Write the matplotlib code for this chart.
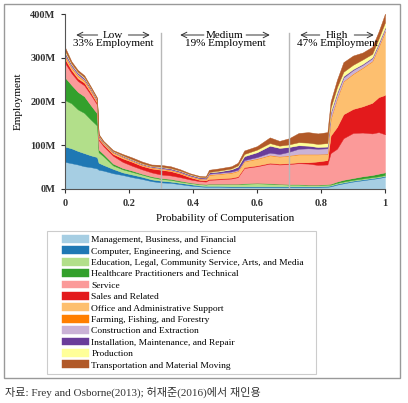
import matplotlib
matplotlib.use("Agg")
import matplotlib.pyplot as plt
from matplotlib.patches import Rectangle

plt.rcParams['font.family'] = ['Liberation Serif', 'DejaVu Sans']

# Probability of computerisation (x) and employment per occupation group (millions)
prob = [0, 0.02, 0.04, 0.06, 0.08, 0.10, 0.105, 0.12, 0.15, 0.18, 0.21, 0.24, 0.27,
        0.30, 0.33, 0.36, 0.39, 0.42, 0.44, 0.45, 0.48, 0.52, 0.54, 0.56, 0.60, 0.64,
        0.67, 0.70, 0.73, 0.76, 0.79, 0.82, 0.83, 0.85, 0.87, 0.90, 0.93, 0.96, 0.98, 1.0]

management = [62, 59, 56, 52, 50, 47, 44, 42, 36, 32, 27, 23, 18, 15, 14, 11, 8, 6, 5, 5, 5, 4, 4, 4,
              4, 4, 4, 4, 4, 4, 4, 5, 6, 10, 13, 17, 20, 23, 25, 28]
computer = [35, 34, 31, 30, 27, 26, 16, 13, 10, 6, 6, 5, 4, 4, 3, 3, 3, 2, 2, 2, 2, 2, 2, 2,
            2, 2, 2, 2, 2, 2, 2, 2, 2, 2, 2, 2, 2, 2, 2, 2]
education = [106, 103, 95, 92, 82, 72, 24, 20, 8, 7, 6, 5, 5, 4, 4, 3, 3, 3, 3, 4, 4, 5, 5, 6,
             7, 6, 5, 4, 4, 3, 3, 3, 2, 2, 2, 2, 2, 2, 2, 2]
healthcare = [52, 42, 40, 38, 33, 28, 6, 5, 4, 3, 3, 2, 2, 2, 2, 2, 1, 1, 1, 1, 1, 1, 1, 1,
              1, 1, 1, 1, 1, 1, 1, 1, 2, 3, 4, 4, 5, 5, 6, 6]
service = [33, 27, 25, 25, 24, 20, 22, 18, 18, 14, 11, 10, 9, 8, 8, 8, 7, 6, 6, 9, 10, 12, 15, 35,
           38, 45, 44, 46, 48, 48, 45, 45, 70, 75, 95, 103, 100, 95, 95, 87]
sales = [9, 7, 6, 6, 5, 4, 3, 4, 4, 8, 9, 8, 9, 11, 10, 8, 5, 3, 3, 2, 2, 2, 2, 2,
         2, 2, 2, 2, 2, 3, 8, 10, 40, 50, 55, 55, 60, 70, 80, 90]
office = [5, 5, 5, 4, 4, 3, 3, 2, 3, 3, 2, 2, 2, 2, 2, 2, 2, 2, 2, 9, 10, 11, 12, 13,
          15, 17, 16, 17, 18, 18, 16, 14, 38, 65, 75, 80, 88, 95, 115, 145]
farming = [3, 2, 2, 2, 2, 1, 1, 1, 1, 1, 1, 1, 1, 1, 1, 1, 1, 1, 1, 1, 1, 1, 1, 1,
           1, 1, 1, 1, 1, 1, 1, 1, 1, 1, 1, 1, 1, 1, 1, 1]
construction = [3, 3, 3, 2, 2, 2, 1, 1, 1, 1, 1, 1, 1, 1, 1, 1, 1, 1, 1, 2, 2, 2, 2, 2,
                3, 5, 5, 8, 12, 13, 12, 12, 12, 10, 8, 8, 6, 6, 6, 6]
installation = [4, 3, 3, 3, 2, 2, 2, 1, 1, 1, 1, 1, 1, 2, 2, 2, 2, 2, 2, 3, 3, 5, 7, 9,
                11, 16, 14, 11, 8, 6, 4, 4, 3, 3, 3, 2, 2, 2, 2, 2]
production = [4, 2, 2, 2, 1, 1, 1, 1, 1, 1, 1, 1, 1, 1, 1, 1, 1, 1, 1, 1, 2, 2, 3, 5,
              6, 6, 5, 6, 7, 7, 7, 8, 10, 12, 10, 10, 10, 8, 10, 12]
transport = [8, 5, 4, 4, 3, 3, 3, 2, 2, 3, 4, 4, 3, 4, 4, 3, 2, 2, 2, 5, 5, 5, 6, 8,
             8, 13, 11, 14, 21, 24, 24, 25, 14, 17, 22, 21, 16, 16, 16, 20]

labels = ["Management, Business, and Financial",
          "Computer, Engineering, and Science",
          "Education, Legal, Community Service, Arts, and Media",
          "Healthcare Practitioners and Technical",
          "Service",
          "Sales and Related",
          "Office and Administrative Support",
          "Farming, Fishing, and Forestry",
          "Construction and Extraction",
          "Installation, Maintenance, and Repair",
          "Production",
          "Transportation and Material Moving"]
colors = ["#a6cee3", "#1f78b4", "#b2df8a", "#33a02c", "#fb9a99", "#e31a1c",
          "#fdbf6f", "#ff7f00", "#cab2d6", "#6a3d9a", "#ffff99", "#b15928"]
series = [management, computer, education, healthcare, service, sales, office,
          farming, construction, installation, production, transport]

yticks = [0, 100, 200, 300, 400]
xticks = [0, 0.2, 0.4, 0.6, 0.8, 1]
xtick_labels = ["0", "0.2", "0.4", "0.6", "0.8", "1"]

W, H = 408, 403
fig = plt.figure(figsize=(W / 100, H / 100), dpi=100)
ax = fig.add_axes([65 / W, 1 - 189 / H, 320 / W, 175 / H])

polys = ax.stackplot(prob, *series, colors=colors, labels=labels, linewidth=0.3)
for p, c in zip(polys, colors):
    p.set_edgecolor(c)

ax.set_xlim(0, 1)
ax.set_ylim(0, 400)
for xv in (0.3, 0.7):
    ax.plot([xv, xv], [0, 356], color="#b8b8b8", lw=1, zorder=5)

ax.set_yticks(yticks)
ax.set_yticklabels([f"{v}M" for v in yticks], fontsize=7.5, fontweight="bold")
ax.set_xticks(xticks)
ax.set_xticklabels(xtick_labels, fontsize=7.5, fontweight="bold")
ax.tick_params(direction="out", length=3, width=0.8, colors="#333333", pad=4)
for s in ("top", "right"):
    ax.spines[s].set_visible(False)
for s in ("left", "bottom"):
    ax.spines[s].set_color("#555555")
    ax.spines[s].set_linewidth(0.8)
ax.set_xlabel("Probability of Computerisation", fontsize=8, labelpad=4)
ax.set_ylabel("Employment", fontsize=8, labelpad=5)

# region annotations
def region(xc, name, pct, half):
    ax.text(xc, 352, name, ha="center", va="center", fontsize=8,
            bbox=dict(facecolor="white", edgecolor="none", pad=0.5), zorder=6)
    ax.annotate("", xy=(xc - half, 352), xytext=(xc - 0.03 - len(name) * 0.006, 352),
                arrowprops=dict(arrowstyle="->", lw=0.7, color="#333333", shrinkA=0, shrinkB=0))
    ax.annotate("", xy=(xc + half, 352), xytext=(xc + 0.03 + len(name) * 0.006, 352),
                arrowprops=dict(arrowstyle="->", lw=0.7, color="#333333", shrinkA=0, shrinkB=0))
    ax.text(xc, 333, pct, ha="center", va="center", fontsize=8, zorder=6)

region(0.15, "Low", "33% Employment", 0.115)
region(0.5, "Medium", "19% Employment", 0.14)
region(0.85, "High", "47% Employment", 0.115)

# legend with manual frame
handles, labs = ax.get_legend_handles_labels()
leg = fig.legend(handles, labs, loc="upper left", bbox_to_anchor=(62 / W, 1 - 235 / H),
                 frameon=False, fontsize=6.8, borderpad=0, handlelength=2.85,
                 handleheight=0.9, handletextpad=0.25, labelspacing=0.235,
                 borderaxespad=0)
fig.patches.append(Rectangle((47 / W, 1 - 374 / H), 269 / W, 143 / H,
                             transform=fig.transFigure, fill=False,
                             edgecolor="#cccccc", lw=0.8))
# outer frame
fig.patches.append(Rectangle((4 / W, 1 - 378 / H), 396 / W, 374 / H,
                             transform=fig.transFigure, fill=False,
                             edgecolor="#999999", lw=1))

fig.text(5 / W, 1 - 392 / H, "자료: Frey and Osborne(2013); 허재준(2016)에서 재인용",
         fontsize=8, va="center", ha="left",
         family=["Liberation Serif", "Noto Sans CJK KR"], color="#333333")

fig.savefig("out.png", dpi=100)
